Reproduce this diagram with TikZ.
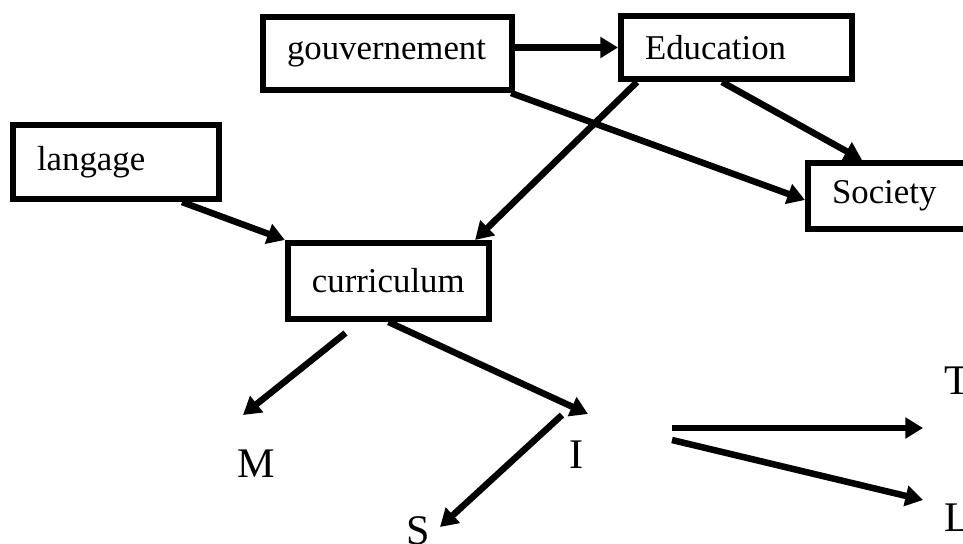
\documentclass[tikz,border=0pt]{standalone}
\usepackage{fontspec}
\setmainfont{Liberation Serif}
\usetikzlibrary{arrows.meta,calc}

\newcommand{\boxtext}{\fontsize{19.8}{24}\selectfont}
\newcommand{\lettertext}{\fontsize{24}{28}\selectfont}

\begin{document}
\begin{tikzpicture}[x=0.02cm, y=-0.02cm,
    box/.style={draw, line width=3.5pt, inner xsep=13.66pt, inner ysep=0pt,
                align=left, font=\boxtext},
    letter/.style={font=\lettertext, inner sep=0pt},
    arr/.style={line width=3.7pt, -{Triangle[length=10pt, width=11.5pt]}}]

    \path[use as bounding box, clip] (0, 0) rectangle (963, 544);

    % Boxes
    \node [box, text width=114.4pt, minimum height=41.5pt] (gouv) at (387.5, 53.5) {gouvernement};
    \node [box, text width=104.1pt, minimum height=35.8pt] (edu)  at (736.5, 47.5) {Education};
    \node [box, text width=89.9pt,  minimum height=42.1pt] (lang) at (116, 162)    {langage};
    \node [box, text width=81.9pt,  minimum height=37.6pt] (soc)  at (904, 196)    {Society};
    \node [box, text width=87.1pt,  minimum height=43.2pt] (curr) at (388.5, 281)  {curriculum};

    % Letters
    \node [letter] (m) at (256, 464)   {M};
    \node [letter] (i) at (577, 455)   {I};
    \node [letter] (s) at (418, 531)   {S};
    \node [letter] (t) at (957.5, 381) {T};
    \node [letter] (l) at (957.5, 517.5) {L};

    % Connections between the boxes
    \draw [arr] (gouv.east |- edu.west) -- (edu.west);
    \draw [arr] ($(edu.south west)+(19, 0)$) -- ($(curr.north east)+(-17, 0)$);
    \draw [arr] ($(gouv.south east)+(-4, 0)$) -- ($(soc.west)+(0, 4)$);
    \draw [arr] ($(edu.south west)+(104, 0)$) -- ($(soc.north west)+(57, 0)$);
    \draw [arr] ($(lang.south east)+(-40, 0)$) -- (curr.north west);

    % Connections to the letters
    \draw [arr] ($(curr.south)+(-43, 11)$) -- ($(m)+(-13, -49)$);
    \draw [arr] (curr.south) -- ($(i)+(11, -41)$);
    \draw [arr] ($(i)+(-15, -40)$) -- ($(s)+(22, -4)$);
    \draw [arr] ($(i)+(95, -27)$) -- ($(t)+(-34.5, 47)$);
    \draw [arr] ($(i)+(95, -15)$) -- ($(l)+(-34.5, -17.5)$);
\end{tikzpicture}
\end{document}
